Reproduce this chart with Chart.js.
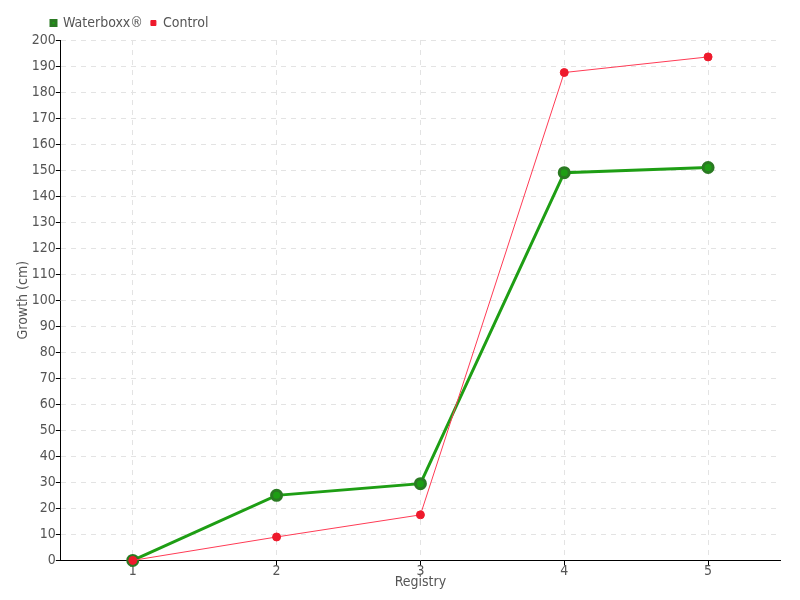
<!DOCTYPE html>
<html lang="en">
<head>
<meta charset="UTF-8">
<title>Waterboxx growth</title>
<script src="https://cdn.jsdelivr.net/npm/chart.js"></script>
<style>
  html, body { margin: 0; padding: 0; background: #fff; }
  #wrap { width: 800px; height: 600px; position: relative; }
</style>
</head>
<body>
<div id="wrap"><canvas id="grafico"></canvas></div>
<script>
// dados
var registros = ['1', '2', '3', '4', '5'];
var waterboxx = [0, 25, 29.5, 149, 151];
var controle = [0, 9, 17.5, 187.5, 193.5];

var fonte = "'DejaVu Sans Condensed', 'Liberation Sans Narrow', 'DejaVu Sans', sans-serif";
Chart.defaults.font.family = fonte;
Chart.defaults.font.size = 14;
Chart.defaults.color = '#555';

var grade = {
  color: '#e3e3e3',
  tickColor: '#000',
  tickBorderDash: [],
  tickLength: 5
};
var borda = { color: '#000', width: 1, dash: [5, 5] };

// empurra a legenda um pouco para a direita, como no original
var moverLegenda = {
  id: 'moverLegenda',
  afterLayout: function (chart) {
    chart.legend.left += 28;
    chart.legend.right += 28;
  }
};

new Chart(document.getElementById('grafico'), {
  type: 'line',
  data: {
    labels: registros,
    datasets: [{
      label: 'Waterboxx®',
      data: waterboxx,
      borderColor: '#1e9e14',
      backgroundColor: '#1e9e14',
      pointBorderColor: '#2a7a22',
      pointBackgroundColor: '#1e9e14',
      borderWidth: 3,
      pointRadius: 5,
      pointHoverRadius: 5,
      tension: 0,
      fill: false,
      clip: false,
      order: 2
    }, {
      label: 'Control',
      data: controle,
      borderColor: '#ff3b55',
      backgroundColor: '#ee1a2c',
      pointBorderColor: '#ee1a2c',
      pointBackgroundColor: '#ee1a2c',
      borderWidth: 1,
      pointRadius: 4,
      pointHoverRadius: 4,
      tension: 0,
      fill: false,
      clip: false,
      order: 1
    }]
  },
  plugins: [moverLegenda],
  options: {
    responsive: true,
    maintainAspectRatio: false,
    animation: false,
    layout: { padding: { left: 15, right: 20, top: 8, bottom: 9 } },
    plugins: {
      tooltip: { enabled: false },
      legend: {
        position: 'top',
        align: 'start',
        labels: {
          usePointStyle: true,
          pointStyle: 'rect',
          boxWidth: 5,
          boxHeight: 5,
          padding: 8,
          color: '#555',
          font: { size: 14 },
          sort: function (a, b) { return a.datasetIndex - b.datasetIndex; }
        }
      }
    },
    scales: {
      x: {
        offset: true,
        grid: Object.assign({ offset: false }, grade),
        border: borda,
        ticks: { padding: -2, color: '#555' },
        title: { display: true, text: 'Registry', color: '#555', padding: { top: -4, bottom: 0 } }
      },
      y: {
        min: 0,
        max: 200,
        grid: grade,
        border: borda,
        ticks: { stepSize: 10, padding: 0, color: '#555' },
        title: { display: true, text: 'Growth (cm)', color: '#555', padding: 0 }
      }
    }
  }
});
</script>
</body>
</html>
